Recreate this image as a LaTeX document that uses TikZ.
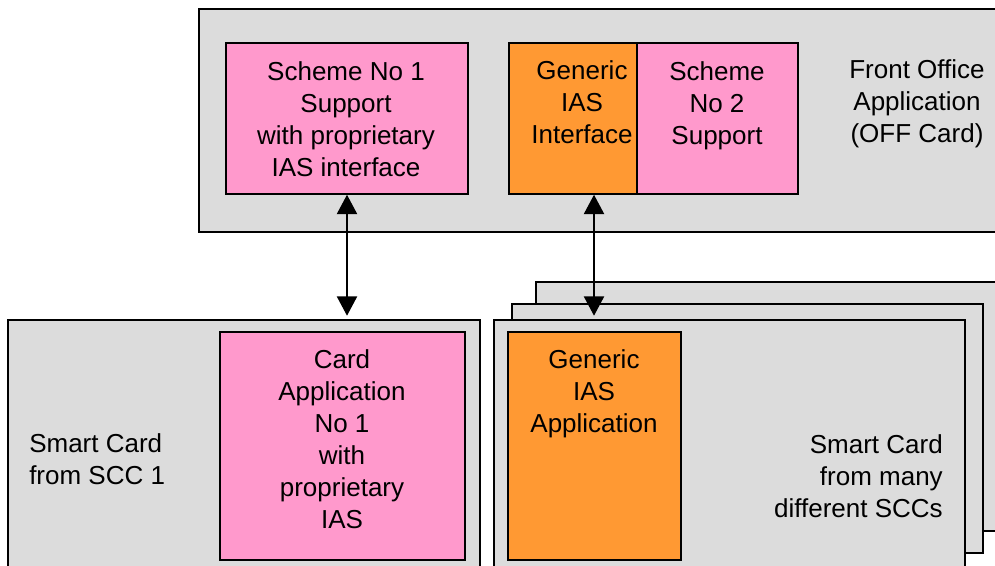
\documentclass[tikz,border=0pt]{standalone}
\usepackage{fontspec}
\setmainfont{Liberation Sans}
\usetikzlibrary{arrows.meta,fit}
\definecolor{cardgray}{HTML}{DCDCDC}
\definecolor{pinkc}{HTML}{FF99CC}
\definecolor{orangec}{HTML}{FF9933}
\tikzset{
  card/.style={draw=black, line width=1.4pt, fill=cardgray, inner sep=0pt},
  pinkbox/.style={draw=black, line width=1.1pt, fill=pinkc, inner sep=0pt},
  orangebox/.style={draw=black, line width=1.1pt, fill=orangec, inner sep=0pt},
  lbl/.style={align=center, font=\fontsize{19.5}{24}\selectfont, inner sep=0pt},
  arr/.style={{Triangle[length=14.5pt,width=15pt]}-{Triangle[length=14.5pt,width=15pt]}, line width=1.6pt}
}
\begin{document}
\begin{tikzpicture}[x=0.75pt,y=-0.75pt]
\useasboundingbox (0,0) rectangle (995,565);
\clip (0,0) rectangle (995,565);
% Front office
\node[card, fit={(199,9) (1010,232)}] (fo) {};
\node[pinkbox, fit={(226,43) (468,194)}] (s1) {};
\node[orangebox, fit={(509,43) (637,194)}] (gi) {};
\node[pinkbox, fit={(637,43) (798,194)}] (s2) {};
\node[lbl] (s1t) at (346,119) {Scheme No 1\\Support\\with proprietary\\IAS interface};
\node[lbl] (git) at (582,102) {Generic\\IAS\\Interface};
\node[lbl] (s2t) at (717,106) {Scheme\\No 2\\Support};
\node[lbl] (fot) at (917,104) {Front Office\\Application\\(OFF Card)};
% stacked cards
\node[card, fit={(536,282) (1010,531)}] (bc) {};
\node[card, fit={(512,304) (983,553)}] (mc) {};
\node[card, fit={(494,320) (965,580)}] (fc) {};
\node[orangebox, fit={(508,332) (681,560)}] (ga) {};
\node[lbl] (gat) at (594,394) {Generic\\IAS\\Application};
\node[lbl, align=right, anchor=east] (fct) at (943,476) {Smart Card\\from many\\different SCCs};
% left card
\node[card, fit={(8,320) (480,580)}] (lc) {};
\node[pinkbox, fit={(220,332) (465,560)}] (ca) {};
\node[lbl] (cat) at (342,439.5) {Card\\Application\\No 1\\with\\proprietary\\IAS};
\node[lbl, align=left, anchor=west] (lct) at (29,459) {Smart Card\\from SCC 1};
% arrows
\draw[arr, shorten >=2.5pt] (s1.south) -- (s1.south |- lc.north);
\draw[arr, shorten >=2.5pt] ([xshift=-0.375pt]ga.north |- gi.south) -- ([xshift=-0.375pt]ga.north |- fc.north);
\end{tikzpicture}
\end{document}
